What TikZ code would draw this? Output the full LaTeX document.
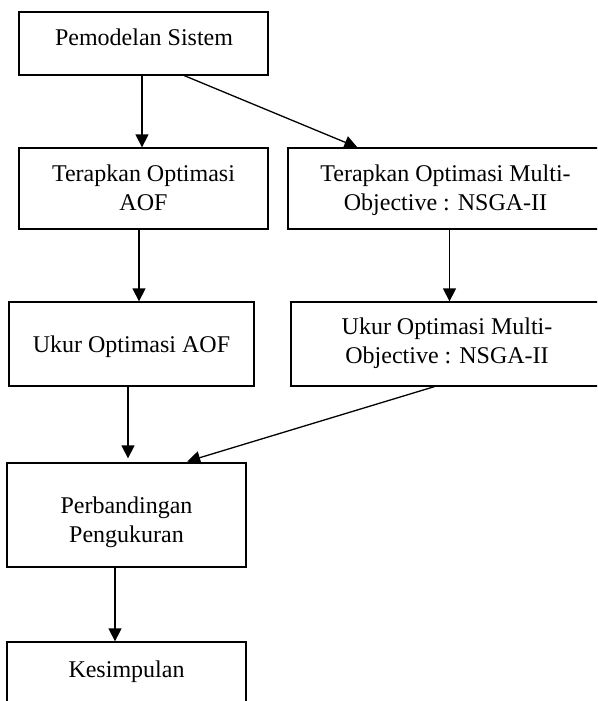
\documentclass[tikz,border=0pt]{standalone}
\usepackage{fontspec}
\setmainfont{Liberation Serif}
\usetikzlibrary{arrows.meta}
\begin{document}
\begin{tikzpicture}[x=1pt,y=-1pt,
  box/.style={draw, line width=1.3pt, inner sep=0pt},
  txt/.style={inner sep=0pt, align=center, anchor=base,
    font=\fontsize{24}{29}\selectfont},
  flow/.style={line width=1.3pt, -{Triangle[length=13pt,width=13pt]}}]
\useasboundingbox (0,0) rectangle (597,701);
\begin{scope}
\clip (0,0) rectangle (597,701);
% boxes
\node[box, minimum width=249pt, minimum height=63pt]  (b1) at (143.5,43.5) {};
\node[box, minimum width=249pt, minimum height=81pt]  (b2) at (143.5,188.5) {};
\node[box, minimum width=315pt, minimum height=81pt]  (b3) at (445.5,188.5) {};
\node[box, minimum width=245pt, minimum height=84pt]  (b4) at (131.5,344) {};
\node[box, minimum width=312pt, minimum height=84pt]  (b5) at (447,344) {};
\node[box, minimum width=239pt, minimum height=104pt] (b6) at (126.5,515) {};
\node[box, minimum width=239pt, minimum height=70pt]  (b7) at (126.5,677) {};
% labels (base anchor sits on the last line)
\node[txt] (t1) at (144,46)    {Pemodelan Sistem};
\node[txt] (t2) at (143.5,210) {Terapkan Optimasi\\AOF};
\node[txt] (t3) at (445.5,210) {Terapkan Optimasi Multi-\\Objective : NSGA-II};
\node[txt] (t4) at (131.5,352) {Ukur Optimasi AOF};
\node[txt] (t5) at (447,363)   {Ukur Optimasi Multi-\\Objective : NSGA-II};
\node[txt] (t6) at (126.5,542) {Perbandingan\\Pengukuran};
\node[txt] (t7) at (126.5,677) {Kesimpulan};
% connectors
\draw[flow] ([xshift=-1.5pt]b1.south) -- ([xshift=-1.5pt]b2.north);
\draw[flow] ([xshift=166pt]b1.south west) -- ([xshift=70pt]b3.north west);
\draw[flow] ([xshift=-4.5pt]b2.south) -- ([xshift=-4.5pt]b2.south |- b4.north);
\draw[flow] ([xshift=4pt]b3.south) -- ([xshift=4pt]b3.south |- b5.north);
\draw[flow, shorten >=4pt] ([xshift=-3.5pt]b4.south) -- ([xshift=-3.5pt]b4.south |- b6.north);
\draw[flow, shorten >=3pt] ([xshift=144pt]b5.south west) -- ([xshift=178pt]b6.north west);
\draw[flow] ([xshift=-11.5pt]b6.south) -- ([xshift=-11.5pt]b6.south |- b7.north);
\end{scope}
\end{tikzpicture}
\end{document}
